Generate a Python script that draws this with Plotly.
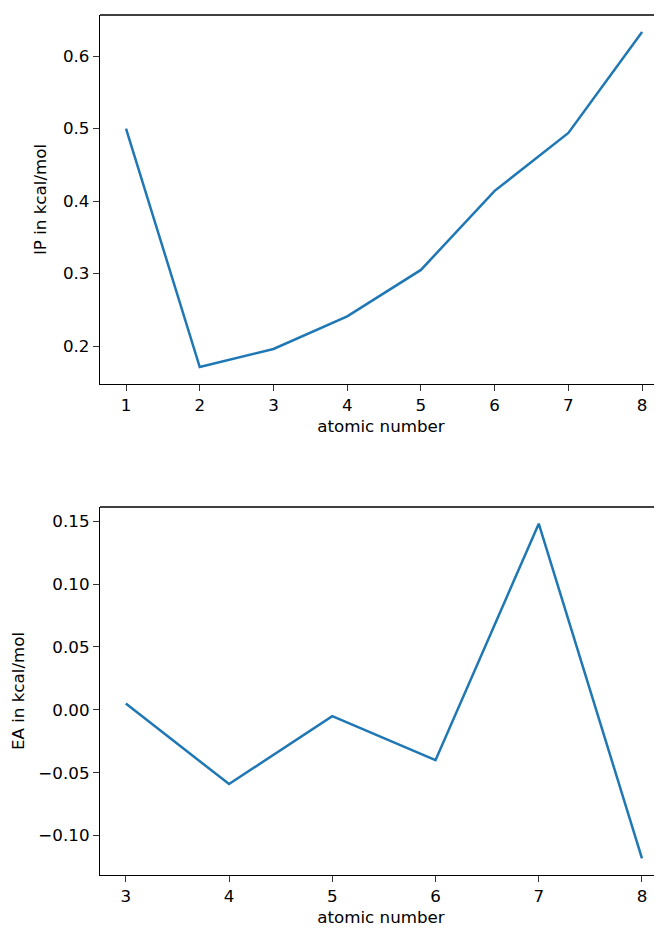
import plotly.graph_objects as go

ip_z = [1, 2, 3, 4, 5, 6, 7, 8]
ip_vals = [0.500, 0.171, 0.196, 0.241, 0.305, 0.414, 0.494, 0.633]
ea_z = [3, 4, 5, 6, 7, 8]
ea_vals = [0.005, -0.059, -0.005, -0.040, 0.148, -0.118]

font = dict(family="DejaVu Sans", size=16.7, color="black")
color = "#1f77b4"

fig = go.Figure()
fig.add_trace(go.Scatter(x=ip_z, y=ip_vals, mode="lines", line=dict(color=color, width=2.5),
                         xaxis="x", yaxis="y", showlegend=False))
fig.add_trace(go.Scatter(x=ea_z, y=ea_vals, mode="lines", line=dict(color=color, width=2.5),
                         xaxis="x2", yaxis="y2", showlegend=False))

ax_common = dict(showline=True, linecolor="black", linewidth=1.3, ticks="outside",
                 ticklen=6, tickwidth=1.3, tickcolor="#333", showgrid=False, zeroline=False,
                 tickfont=font, title_font=font)

fig.update_layout(
    width=654, height=920,
    margin=dict(l=92, r=0, t=7, b=53),
    paper_bgcolor="white", plot_bgcolor="white",
    font=font,
    xaxis=dict(ax_common, domain=[0, 1], anchor="y", range=[0.647, 8.27], dtick=1,
               tick0=1, title=dict(text="atomic number", standoff=6)),
    yaxis=dict(ax_common, domain=[0.5709, 1], anchor="x", range=[0.1476, 0.6566],
               dtick=0.1, tick0=0, tickformat=".1f",
               title=dict(text="IP in kcal/mol", standoff=12)),
    xaxis2=dict(ax_common, domain=[0, 1], anchor="y2", range=[2.75, 8.194], dtick=1,
                tick0=1, title=dict(text="atomic number", standoff=6)),
    yaxis2=dict(ax_common, domain=[0, 0.4279], anchor="x2", range=[-0.1313, 0.1613],
                dtick=0.05, tick0=0, tickformat=".2f",
                title=dict(text="EA in kcal/mol", standoff=10)),
    shapes=[
        dict(type="line", xref="x domain", yref="y domain", x0=0, x1=1, y0=1, y1=1,
             line=dict(color="black", width=1.3)),
        dict(type="line", xref="x2 domain", yref="y2 domain", x0=0, x1=1, y0=1, y1=1,
             line=dict(color="black", width=1.3)),
    ],
)

fig.write_html("out.html")
